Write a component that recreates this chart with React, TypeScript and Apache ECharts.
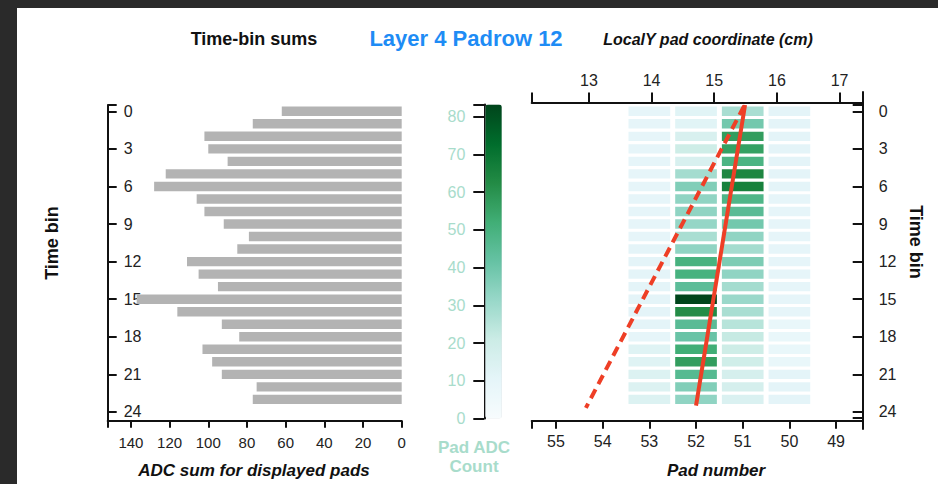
import React, { useEffect, useRef } from "react";
import * as echarts from "echarts";

// ---------- data ----------
const timeBins = [0, 1, 2, 3, 4, 5, 6, 7, 8, 9, 10, 11, 12, 13, 14, 15, 16, 17, 18, 19, 20, 21, 22, 23];
const adcSums = [62, 77, 102, 100, 90, 122, 128, 106, 102, 92, 79, 85, 111, 105, 95, 137, 116, 93, 84, 103, 98, 93, 75, 77];
const padNumbers = [53, 52, 51, 50];
const pad53Adc = [10, 10, 10, 10, 10, 10, 10, 10, 10, 10, 10, 11, 11, 11, 11, 11, 11, 11, 10, 13, 13, 14, 14, 14];
const pad52Adc = [12, 12, 16, 20, 16, 29, 36, 33, 33, 32, 28, 33, 50, 50, 44, 83, 62, 45, 41, 52, 57, 46, 36, 33];
const pad51Adc = [28, 39, 57, 56, 49, 64, 66, 48, 45, 39, 33, 29, 37, 33, 29, 31, 28, 25, 22, 20, 19, 17, 17, 15];
const pad50Adc = [11, 11, 11, 11, 11, 11, 11, 10, 10, 10, 10, 10, 10, 10, 10, 10, 10, 8, 8, 8, 8, 11, 11, 11];
const solidTrack = [[50.95, -0.5], [52.0, 23.5]];
const dashedTrack = [[50.97, -0.42], [54.36, 23.68]];
const timeBinTicks = [0, 3, 6, 9, 12, 15, 18, 21, 24];
const adcTicks = [0, 20, 40, 60, 80, 100, 120, 140];
const padTicks = [49, 50, 51, 52, 53, 54, 55];
const localYTicks = [13, 14, 15, 16, 17];
const colorTicks = [0, 10, 20, 30, 40, 50, 60, 70, 80];
const bugn = ["#f7fcfd", "#e5f5f9", "#ccece6", "#99d8c9", "#66c2a4", "#41ae76", "#238b45", "#006d2c", "#00441b"];

const FONT = "'Liberation Sans', Arial, sans-serif";
const AXIS_LINE = { show: true, onZero: false, lineStyle: { color: "#111", width: 2 } };
const TICK_STYLE = { color: "#111", width: 2 };
const LABEL = { color: "#222", fontFamily: FONT, fontSize: 16 };

export default function App() {
  const ref = useRef<HTMLDivElement>(null);
  useEffect(() => {
    if (!ref.current) return;
    const chart = echarts.init(ref.current, undefined, { renderer: "svg" });

    const padColumns = [pad53Adc, pad52Adc, pad51Adc, pad50Adc];
    const heatData: number[][] = [];
    padNumbers.forEach((p, i) => {
      timeBins.forEach((t, j) => heatData.push([p, t, padColumns[i][j]]));
    });
    const barData = timeBins.map((t, i) => [adcSums[i], t]);

    const option: any = {
      animation: false,
      backgroundColor: "#ffffff",
      textStyle: { fontFamily: FONT },
      grid: [
        { left: 107.7, top: 105, width: 294, height: 315.7 },
        { left: 531.7, top: 102.5, width: 331, height: 318.2 },
        { left: 531.7, top: 92, width: 331, height: 337 },
        { left: 484.3, top: 104.5, width: 17, height: 314 },
      ],
      xAxis: [
        {
          gridIndex: 0, type: "value", position: "bottom", inverse: true, min: 0, max: 152,
          axisLine: AXIS_LINE,
          axisTick: { show: true, length: 7, lineStyle: TICK_STYLE, customValues: [...adcTicks, 152] },
          axisLabel: { ...LABEL, fontSize: 15, margin: 14, customValues: adcTicks },
          splitLine: { show: false },
        },
        {
          gridIndex: 1, type: "value", position: "bottom", inverse: true, min: 48.43, max: 55.52,
          axisLine: AXIS_LINE,
          axisTick: { show: true, length: 8, lineStyle: TICK_STYLE, customValues: [...padTicks, 55.52] },
          axisLabel: { ...LABEL, margin: 13, customValues: padTicks },
          splitLine: { show: false },
        },
        {
          gridIndex: 1, type: "value", position: "top", min: 12.086, max: 17.37,
          axisLine: AXIS_LINE,
          axisTick: { show: true, length: 10, lineStyle: TICK_STYLE, customValues: [12.086, ...localYTicks] },
          axisLabel: { ...LABEL, margin: 14, customValues: localYTicks },
          splitLine: { show: false },
        },
        { gridIndex: 2, type: "value", show: false, min: 0, max: 1 },
        { gridIndex: 3, type: "value", show: false, min: 0, max: 1 },
      ],
      yAxis: [
        {
          gridIndex: 0, type: "value", position: "left", inverse: true, min: -0.5, max: 24.7,
          axisLine: AXIS_LINE,
          axisTick: { show: true, inside: true, length: 9, lineStyle: TICK_STYLE, customValues: [-0.5, ...timeBinTicks] },
          axisLabel: { ...LABEL, inside: true, margin: 16, customValues: timeBinTicks },
          splitLine: { show: false },
        },
        { gridIndex: 1, type: "value", show: false, inverse: true, min: -0.7, max: 24.7 },
        {
          gridIndex: 2, type: "value", position: "right", inverse: true, min: -1.537, max: 25.36,
          axisLine: AXIS_LINE,
          axisTick: { show: true, inside: true, length: 10, lineStyle: TICK_STYLE, customValues: [-0.5, ...timeBinTicks, 24.5] },
          axisLabel: { ...LABEL, margin: 16, customValues: timeBinTicks },
          splitLine: { show: false },
        },
        {
          gridIndex: 3, type: "value", position: "left", min: 0, max: 83.2,
          axisLine: AXIS_LINE,
          axisTick: { show: true, length: 11, lineStyle: TICK_STYLE, customValues: [...colorTicks, 83.2] },
          axisLabel: { ...LABEL, color: "#a8dccb", margin: 19, customValues: colorTicks },
          splitLine: { show: false },
        },
      ],
      visualMap: {
        type: "continuous",
        min: 0,
        max: 83.2,
        seriesIndex: 1,
        dimension: 2,
        orient: "vertical",
        left: 485.3,
        top: 104.5,
        padding: 0,
        itemWidth: 16.5,
        itemHeight: 314,
        calculable: false,
        text: null,
        showLabel: false,
        inRange: { color: bugn },
      },
      series: [
        {
          type: "custom",
          xAxisIndex: 0,
          yAxisIndex: 0,
          encode: { x: 0, y: 1 },
          data: barData,
          z: 3,
          renderItem: (_p: any, api: any) => {
            const v = api.value(0);
            const t = api.value(1);
            const a = api.coord([0, t]);
            const b = api.coord([v, t]);
            const h = Math.abs(api.size([0, 1])[1]) * 0.75;
            return {
              type: "rect",
              shape: { x: Math.min(a[0], b[0]), y: a[1] - h / 2, width: Math.abs(b[0] - a[0]), height: h },
              style: { fill: "#b3b3b3" },
            };
          },
        },
        {
          type: "custom",
          xAxisIndex: 1,
          yAxisIndex: 1,
          encode: { x: 0, y: 1 },
          data: heatData,
          renderItem: (_p: any, api: any) => {
            const c = api.coord([api.value(0), api.value(1)]);
            const w = Math.abs(api.size([1, 0])[0]) * 0.893;
            const h = Math.abs(api.size([0, 1])[1]) * 0.75;
            return {
              type: "rect",
              shape: { x: c[0] - w / 2, y: c[1] - h / 2, width: w, height: h },
              style: { fill: api.visual("color") },
            };
          },
        },
        {
          type: "line",
          xAxisIndex: 1,
          yAxisIndex: 1,
          data: dashedTrack,
          symbol: "none",
          z: 5,
          lineStyle: { color: "#ee3f26", width: 4, type: [10, 6] },
        },
        {
          type: "line",
          xAxisIndex: 1,
          yAxisIndex: 1,
          data: solidTrack,
          symbol: "none",
          z: 5,
          lineStyle: { color: "#ee3f26", width: 4 },
        },
      ],
      graphic: [
        { type: "rect", shape: { x: 0, y: 0, width: 17, height: 484 }, style: { fill: "#2a2a2a" }, z: 100 },
        { type: "rect", shape: { x: 0, y: 0, width: 938, height: 8 }, style: { fill: "#2a2a2a" }, z: 100 },
        {
          type: "text", x: 254, y: 39,
          style: { text: "Time-bin sums", font: `bold 18px ${FONT}`, fill: "#111", align: "center", verticalAlign: "middle", textAlign: "center", textVerticalAlign: "middle" },
        },
        {
          type: "text", x: 466, y: 38,
          style: { text: "Layer 4 Padrow 12", font: `bold 22px ${FONT}`, fill: "#1e8cf5", align: "center", verticalAlign: "middle", textAlign: "center", textVerticalAlign: "middle" },
        },
        {
          type: "text", x: 708, y: 39,
          style: { text: "LocalY pad coordinate (cm)", font: `italic bold 16px ${FONT}`, fill: "#111", align: "center", verticalAlign: "middle", textAlign: "center", textVerticalAlign: "middle" },
        },
        {
          type: "text", x: 254, y: 470,
          style: { text: "ADC sum for displayed pads", font: `italic bold 17px ${FONT}`, fill: "#111", align: "center", verticalAlign: "middle", textAlign: "center", textVerticalAlign: "middle" },
        },
        {
          type: "text", x: 716, y: 470,
          style: { text: "Pad number", font: `italic bold 17px ${FONT}`, fill: "#111", align: "center", verticalAlign: "middle", textAlign: "center", textVerticalAlign: "middle" },
        },
        {
          type: "text", x: 52, y: 243, rotation: Math.PI / 2,
          style: { text: "Time bin", font: `bold 18px ${FONT}`, fill: "#111", align: "center", verticalAlign: "middle", textAlign: "center", textVerticalAlign: "middle" },
        },
        {
          type: "text", x: 916, y: 242, rotation: -Math.PI / 2,
          style: { text: "Time bin", font: `bold 18px ${FONT}`, fill: "#111", align: "center", verticalAlign: "middle", textAlign: "center", textVerticalAlign: "middle" },
        },
        {
          type: "text", x: 474, y: 447,
          style: { text: "Pad ADC", font: `bold 17px ${FONT}`, fill: "#a8dccb", align: "center", verticalAlign: "middle", textAlign: "center", textVerticalAlign: "middle" },
        },
        {
          type: "text", x: 474, y: 466,
          style: { text: "Count", font: `bold 17px ${FONT}`, fill: "#a8dccb", align: "center", verticalAlign: "middle", textAlign: "center", textVerticalAlign: "middle" },
        },
      ],
    };

    chart.setOption(option);
    return () => chart.dispose();
  }, []);

  return (
    <div
      ref={ref}
      style={{ position: "absolute", left: 0, top: 0, width: 938, height: 484, background: "#fff" }}
    />
  );
}
